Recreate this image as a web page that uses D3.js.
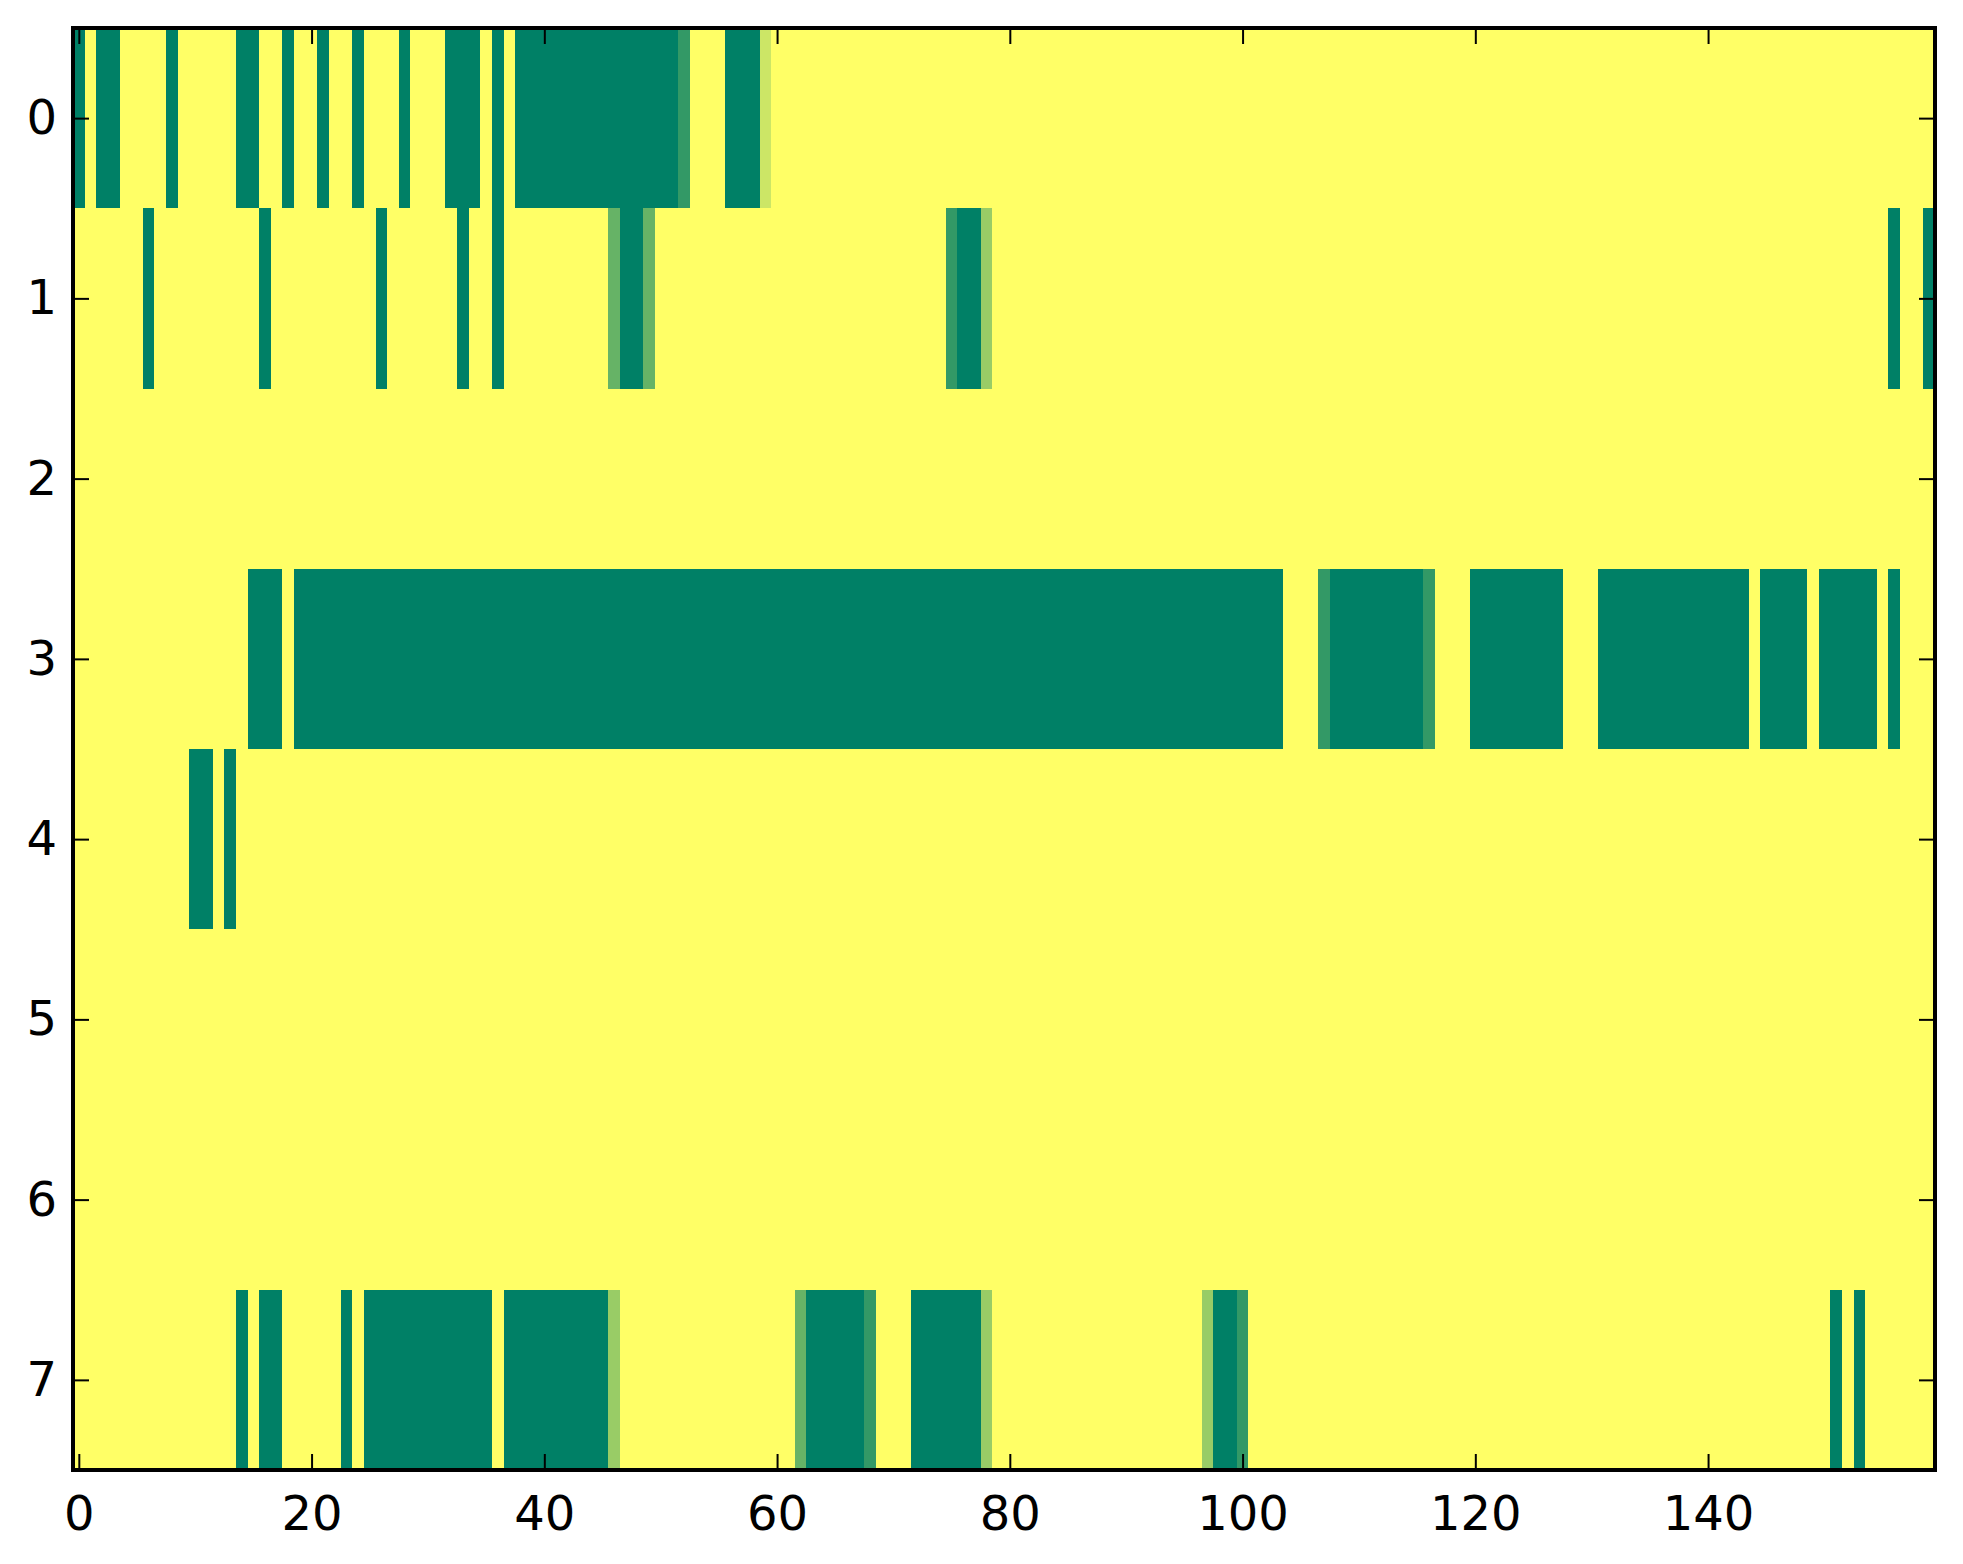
<!DOCTYPE html>
<html>
<head>
<meta charset="utf-8">
<script src="https://cdn.jsdelivr.net/npm/d3@7"></script>
<style>
  body { margin: 0; background: #fff; }
  svg { display: block; }
  .axis text { font-family: "DejaVu Sans", sans-serif; font-size: 48px; fill: #000; }
  .axis line { stroke: #000; stroke-width: 2px; }
</style>
</head>
<body>
<div id="chart"></div>
<script>
// cell values per row (0 = dark green, 1 = yellow)
var row0 = [
  0,1,0,0,1,1,1,1,0,1,1,1,1,1,0,0,1,1,0,1,
  1,0,1,1,0,1,1,1,0,1,1,1,0,0,0,1,0,1,0,0,
  0,0,0,0,0,0,0,0,0,0,0,0,0.2,1,1,1,0,0,0,0.8,
  1,1,1,1,1,1,1,1,1,1,1,1,1,1,1,1,1,1,1,1,
  1,1,1,1,1,1,1,1,1,1,1,1,1,1,1,1,1,1,1,1,
  1,1,1,1,1,1,1,1,1,1,1,1,1,1,1,1,1,1,1,1,
  1,1,1,1,1,1,1,1,1,1,1,1,1,1,1,1,1,1,1,1,
  1,1,1,1,1,1,1,1,1,1,1,1,1,1,1,1,1,1,1,1
];
var row1 = [
  1,1,1,1,1,1,0,1,1,1,1,1,1,1,1,1,0,1,1,1,
  1,1,1,1,1,1,0,1,1,1,1,1,1,0,1,1,0,1,1,1,
  1,1,1,1,1,1,0.4,0,0,0.4,1,1,1,1,1,1,1,1,1,1,
  1,1,1,1,1,1,1,1,1,1,1,1,1,1,1,0.2,0,0,0.6,1,
  1,1,1,1,1,1,1,1,1,1,1,1,1,1,1,1,1,1,1,1,
  1,1,1,1,1,1,1,1,1,1,1,1,1,1,1,1,1,1,1,1,
  1,1,1,1,1,1,1,1,1,1,1,1,1,1,1,1,1,1,1,1,
  1,1,1,1,1,1,1,1,1,1,1,1,1,1,1,1,0,1,1,0
];
var row2 = [
  1,1,1,1,1,1,1,1,1,1,1,1,1,1,1,1,1,1,1,1,
  1,1,1,1,1,1,1,1,1,1,1,1,1,1,1,1,1,1,1,1,
  1,1,1,1,1,1,1,1,1,1,1,1,1,1,1,1,1,1,1,1,
  1,1,1,1,1,1,1,1,1,1,1,1,1,1,1,1,1,1,1,1,
  1,1,1,1,1,1,1,1,1,1,1,1,1,1,1,1,1,1,1,1,
  1,1,1,1,1,1,1,1,1,1,1,1,1,1,1,1,1,1,1,1,
  1,1,1,1,1,1,1,1,1,1,1,1,1,1,1,1,1,1,1,1,
  1,1,1,1,1,1,1,1,1,1,1,1,1,1,1,1,1,1,1,1
];
var row3 = [
  1,1,1,1,1,1,1,1,1,1,1,1,1,1,1,0,0,0,1,0,
  0,0,0,0,0,0,0,0,0,0,0,0,0,0,0,0,0,0,0,0,
  0,0,0,0,0,0,0,0,0,0,0,0,0,0,0,0,0,0,0,0,
  0,0,0,0,0,0,0,0,0,0,0,0,0,0,0,0,0,0,0,0,
  0,0,0,0,0,0,0,0,0,0,0,0,0,0,0,0,0,0,0,0,
  0,0,0,0,1,1,1,0.2,0,0,0,0,0,0,0,0,0.2,1,1,1,
  0,0,0,0,0,0,0,0,1,1,1,0,0,0,0,0,0,0,0,0,
  0,0,0,0,1,0,0,0,0,1,0,0,0,0,0,1,0,1,1,1
];
var row4 = [
  1,1,1,1,1,1,1,1,1,1,0,0,1,0,1,1,1,1,1,1,
  1,1,1,1,1,1,1,1,1,1,1,1,1,1,1,1,1,1,1,1,
  1,1,1,1,1,1,1,1,1,1,1,1,1,1,1,1,1,1,1,1,
  1,1,1,1,1,1,1,1,1,1,1,1,1,1,1,1,1,1,1,1,
  1,1,1,1,1,1,1,1,1,1,1,1,1,1,1,1,1,1,1,1,
  1,1,1,1,1,1,1,1,1,1,1,1,1,1,1,1,1,1,1,1,
  1,1,1,1,1,1,1,1,1,1,1,1,1,1,1,1,1,1,1,1,
  1,1,1,1,1,1,1,1,1,1,1,1,1,1,1,1,1,1,1,1
];
var row5 = [
  1,1,1,1,1,1,1,1,1,1,1,1,1,1,1,1,1,1,1,1,
  1,1,1,1,1,1,1,1,1,1,1,1,1,1,1,1,1,1,1,1,
  1,1,1,1,1,1,1,1,1,1,1,1,1,1,1,1,1,1,1,1,
  1,1,1,1,1,1,1,1,1,1,1,1,1,1,1,1,1,1,1,1,
  1,1,1,1,1,1,1,1,1,1,1,1,1,1,1,1,1,1,1,1,
  1,1,1,1,1,1,1,1,1,1,1,1,1,1,1,1,1,1,1,1,
  1,1,1,1,1,1,1,1,1,1,1,1,1,1,1,1,1,1,1,1,
  1,1,1,1,1,1,1,1,1,1,1,1,1,1,1,1,1,1,1,1
];
var row6 = [
  1,1,1,1,1,1,1,1,1,1,1,1,1,1,1,1,1,1,1,1,
  1,1,1,1,1,1,1,1,1,1,1,1,1,1,1,1,1,1,1,1,
  1,1,1,1,1,1,1,1,1,1,1,1,1,1,1,1,1,1,1,1,
  1,1,1,1,1,1,1,1,1,1,1,1,1,1,1,1,1,1,1,1,
  1,1,1,1,1,1,1,1,1,1,1,1,1,1,1,1,1,1,1,1,
  1,1,1,1,1,1,1,1,1,1,1,1,1,1,1,1,1,1,1,1,
  1,1,1,1,1,1,1,1,1,1,1,1,1,1,1,1,1,1,1,1,
  1,1,1,1,1,1,1,1,1,1,1,1,1,1,1,1,1,1,1,1
];
var row7 = [
  1,1,1,1,1,1,1,1,1,1,1,1,1,1,0,1,0,0,1,1,
  1,1,1,0,1,0,0,0,0,0,0,0,0,0,0,0,1,0,0,0,
  0,0,0,0,0,0,0.6,1,1,1,1,1,1,1,1,1,1,1,1,1,
  1,1,0.4,0,0,0,0,0,0.2,1,1,1,0,0,0,0,0,0,0.6,1,
  1,1,1,1,1,1,1,1,1,1,1,1,1,1,1,1,1,0.6,0,0,
  0.2,1,1,1,1,1,1,1,1,1,1,1,1,1,1,1,1,1,1,1,
  1,1,1,1,1,1,1,1,1,1,1,1,1,1,1,1,1,1,1,1,
  1,1,1,1,1,1,1,1,1,1,1,0,1,0,1,1,1,1,1,1
];
var rows = [row0, row1, row2, row3, row4, row5, row6, row7];
var xTicks = [0, 20, 40, 60, 80, 100, 120, 140];
var yTicks = [0, 1, 2, 3, 4, 5, 6, 7];

var width = 1963,
    height = 1564,
    margin = {top: 28, right: 28, bottom: 94, left: 73};

var cells = [];
rows.forEach(function(r, i) {
  r.forEach(function(v, j) { cells.push({row: i, col: j, value: v}); });
});

var svg = d3.select("#chart")
  .append("svg")
  .attr("width", width)
  .attr("height", height);

var x = d3.scaleLinear().domain([-0.5, row0.length - 0.5]).range([margin.left, width - margin.right]);
var y = d3.scaleLinear().domain([-0.5, rows.length - 0.5]).range([margin.top, height - margin.bottom]);
// matplotlib "summer" runs linearly in rgb from green to yellow
var color = d3.scaleLinear().domain([0, 1]).range(["#008066", "#ffff66"]);

svg.append("g")
  .selectAll("rect")
  .data(cells)
  .enter().append("rect")
  .attr("x", d => x(d.col - 0.5))
  .attr("y", d => y(d.row - 0.5))
  .attr("width", d => x(d.col + 0.5) - x(d.col - 0.5) + 0.5)
  .attr("height", d => y(d.row + 0.5) - y(d.row - 0.5) + 0.5)
  .attr("fill", d => color(d.value))
  .attr("shape-rendering", "crispEdges");

var tick = 16;

svg.append("g")
  .attr("class", "axis")
  .attr("transform", `translate(0,${height - margin.bottom})`)
  .call(d3.axisBottom(x).tickValues(xTicks).tickSizeInner(-tick).tickSizeOuter(0).tickPadding(26))
  .call(g => g.select(".domain").remove());

svg.append("g")
  .attr("class", "axis")
  .attr("transform", `translate(0,${margin.top})`)
  .call(d3.axisTop(x).tickValues(xTicks).tickSizeInner(-tick).tickSizeOuter(0).tickFormat(""))
  .call(g => g.select(".domain").remove());

svg.append("g")
  .attr("class", "axis")
  .attr("transform", `translate(${margin.left},0)`)
  .call(d3.axisLeft(y).tickValues(yTicks).tickSizeInner(-tick).tickSizeOuter(0).tickPadding(16))
  .call(g => g.select(".domain").remove());

svg.append("g")
  .attr("class", "axis")
  .attr("transform", `translate(${width - margin.right},0)`)
  .call(d3.axisRight(y).tickValues(yTicks).tickSizeInner(-tick).tickSizeOuter(0).tickFormat(""))
  .call(g => g.select(".domain").remove());

// frame
svg.append("rect")
  .attr("x", margin.left)
  .attr("y", margin.top)
  .attr("width", width - margin.left - margin.right)
  .attr("height", height - margin.top - margin.bottom)
  .attr("fill", "none")
  .attr("stroke", "#000")
  .attr("stroke-width", 4);
</script>
</body>
</html>
